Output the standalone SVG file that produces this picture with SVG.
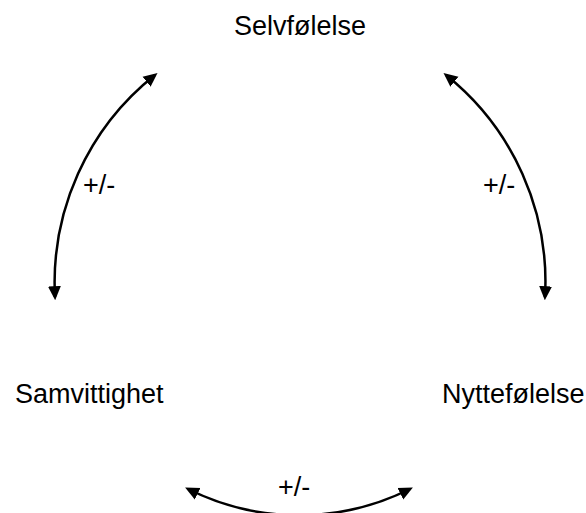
<svg xmlns="http://www.w3.org/2000/svg" width="586" height="513" viewBox="0 0 586 513">
  <style>
    .lbl { font-family: "Liberation Sans", Arial, Helvetica, sans-serif; font-size: 27px; fill: #000; }
    .conn { fill: none; stroke: #000; stroke-width: 2.5; marker-start: url(#arrow); marker-end: url(#arrow); }
  </style>
  <defs>
    <marker id="arrow" markerUnits="userSpaceOnUse" markerWidth="14" markerHeight="14" refX="10" refY="6" orient="auto-start-reverse" viewBox="0 0 13 12">
      <path d="M0,0 L13,6 L0,12 Z" fill="#000"/>
    </marker>
  </defs>
  <rect width="586" height="513" fill="#fff"/>
  <g id="node-selvfolelse">
    <text class="lbl" x="300" y="35" text-anchor="middle">Selvfølelse</text>
  </g>
  <g id="node-samvittighet">
    <text class="lbl" x="15" y="403">Samvittighet</text>
  </g>
  <g id="node-nyttefolelse">
    <text class="lbl" x="442" y="403">Nyttefølelse</text>
  </g>
  <g id="connectors">
    <path class="conn" d="M155,75 A265,265 0 0 0 55,297"/>
    <text class="lbl" x="83" y="194">+/-</text>
    <path class="conn" d="M446,75 A265,265 0 0 1 545,297"/>
    <text class="lbl" x="483" y="194">+/-</text>
    <path class="conn" d="M188,489 A248,248 0 0 0 410,489"/>
    <text class="lbl" x="278" y="496">+/-</text>
  </g>
</svg>
